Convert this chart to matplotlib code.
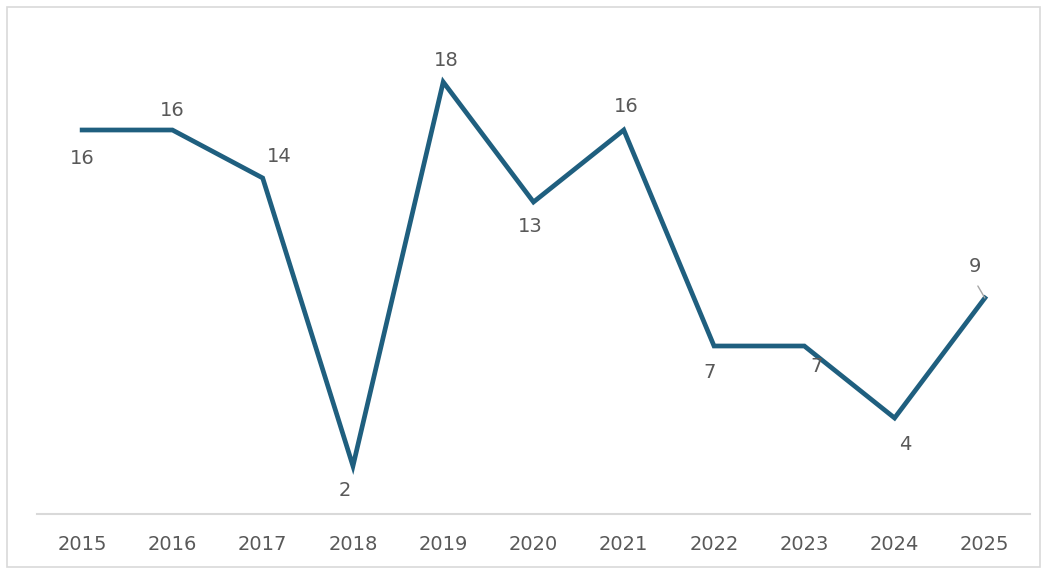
import matplotlib
matplotlib.use("Agg")
import matplotlib.pyplot as plt
from matplotlib.patches import Rectangle

years = ["2015", "2016", "2017", "2018", "2019", "2020", "2021", "2022", "2023", "2024", "2025"]
values = [16, 16, 14, 2, 18, 13, 16, 7, 7, 4, 9]
# label offsets in pixels (dx, dy)
label_offsets = [(0, -28), (0, 20), (17, 22), (-8, -25), (3, 22), (-3, -25),
                 (2, 24), (-4, -27), (12, -21), (11, -26), (-10, 31)]

W, H = 1047, 571
fig = plt.figure(figsize=(W / 100, H / 100), dpi=100)
fig.patch.set_facecolor("white")

# outer frame
fig.patches.append(Rectangle((7 / W, 1 - 567 / H), (1040 - 7) / W, (567 - 7) / H,
                             transform=fig.transFigure, fill=False,
                             edgecolor="#d9d9d9", linewidth=1.2))

ax = fig.add_axes([37 / W, 1 - 514 / H, (1030 - 37) / W, (514 - 10) / H])
x = list(range(len(years)))
ax.plot(x, values, color="#1f5f7f", linewidth=3.4, solid_joinstyle="miter")
ax.set_xlim(-0.5, len(years) - 0.5)
ax.set_ylim(0, 21)
for s in ["top", "right", "left"]:
    ax.spines[s].set_visible(False)
ax.spines["bottom"].set_color("#d9d9d9")
ax.spines["bottom"].set_linewidth(1.5)
ax.set_yticks([])
ax.set_xticks(x)
ax.set_xticklabels(years, color="#595959", fontsize=14)
ax.tick_params(axis="x", length=0, pad=15)

for i, (v, (dx, dy)) in enumerate(zip(values, label_offsets)):
    ax.annotate(str(v), (i, v), xytext=(dx, dy), textcoords="offset pixels",
                ha="center", va="center", color="#595959", fontsize=14)

# leader line for last label
ax.annotate("", (x[-1], values[-1]), xytext=(-7, 12), textcoords="offset pixels",
            arrowprops=dict(arrowstyle="-", color="#a6a6a6", lw=1.0, shrinkA=0, shrinkB=0))

fig.savefig("out.png", dpi=100)
